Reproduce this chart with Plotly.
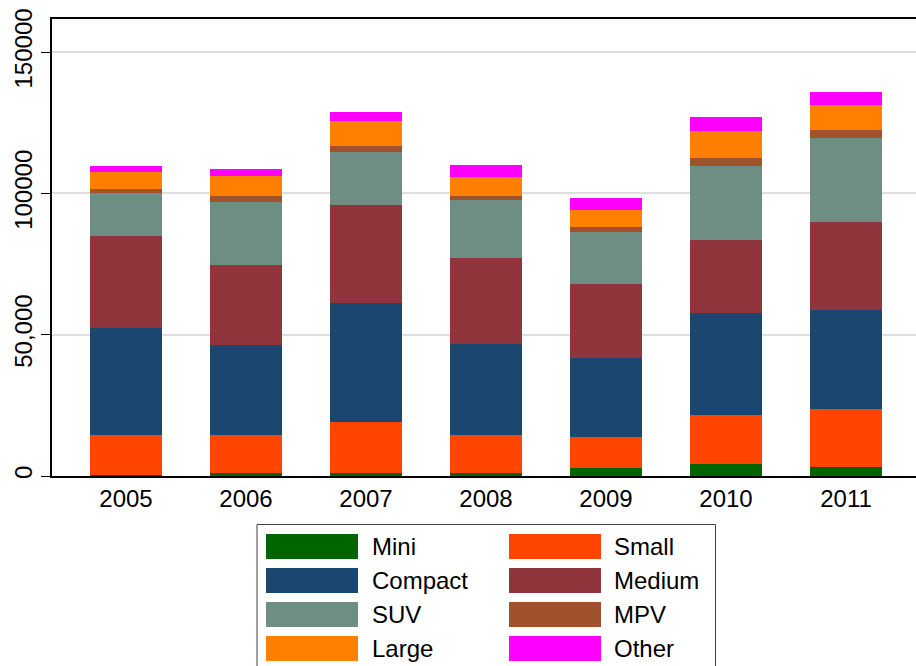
import plotly.graph_objects as go

years = [2005, 2006, 2007, 2008, 2009, 2010, 2011]
mini = [400, 1000, 1050, 1100, 2800, 4200, 3200]
small = [14100, 13400, 18000, 13300, 11050, 17400, 20450]
compact = [37900, 32100, 42000, 32200, 27900, 36000, 34950]
medium = [32400, 28200, 34950, 30700, 26100, 25800, 31400]
suv = [15500, 22250, 18700, 20350, 18600, 26350, 29650]
mpv = [1100, 2150, 2100, 1500, 1500, 2850, 2850]
large = [6100, 7000, 8800, 6700, 6250, 9600, 8800]
other = [2100, 2600, 3200, 4200, 4250, 4950, 4700]

series_names = ["Mini", "Small", "Compact", "Medium", "SUV", "MPV", "Large", "Other"]
series_values = [mini, small, compact, medium, suv, mpv, large, other]
colors = ["#006400", "#ff4500", "#1a476f", "#90353b", "#6e8e84", "#a0522d", "#ff8000", "#ff00ff"]

y_tickvals = [0, 50000, 100000, 150000]
y_ticktext = ["0", "50,000", "100000", "150000"]

W, H = 916, 666
L, R, T, B = 52, 0, 19, 190
pw, ph = W - L - R, H - T - B

fig = go.Figure()
for name, vals, col in zip(series_names, series_values, colors):
    fig.add_trace(go.Bar(x=years, y=vals, name=name, marker=dict(color=col, line=dict(width=0)),
                         width=0.6, showlegend=False, hoverinfo="skip"))

FONT = "Liberation Sans, Arial, Helvetica, sans-serif"

def px2paper(x, y):
    return (x - L) / pw, (H - B - y) / ph

shapes = []
annotations = []
# legend box
x0, y0 = px2paper(257, 524.5)
x1, y1 = px2paper(715.5, 680)
shapes.append(dict(type="rect", xref="paper", yref="paper", x0=x0, x1=x1, y0=y1, y1=y0,
                   line=dict(color="#404040", width=1), fillcolor="white", layer="above"))
col_sw = [266, 509]
col_tx = [370, 612]
row_c = [546.5, 580.5, 614.5, 648.5]
for i, (name, col) in enumerate(zip(series_names, colors)):
    r, c = divmod(i, 2)
    sx0, sy0 = px2paper(col_sw[c], row_c[r] - 12.5)
    sx1, sy1 = px2paper(col_sw[c] + 92, row_c[r] + 12.5)
    shapes.append(dict(type="rect", xref="paper", yref="paper", x0=sx0, x1=sx1, y0=sy1, y1=sy0,
                       line=dict(width=0), fillcolor=col, layer="above"))
    tx, ty = px2paper(col_tx[c], row_c[r])
    annotations.append(dict(xref="paper", yref="paper", x=tx, y=ty, text=name, showarrow=False,
                            xanchor="left", yanchor="middle", font=dict(size=24, color="black", family=FONT)))

fig.update_layout(
    width=W, height=H,
    margin=dict(l=L, r=R, t=T, b=B, pad=0, autoexpand=False),
    paper_bgcolor="white", plot_bgcolor="white",
    barmode="stack", bargap=0.4,
    font=dict(family=FONT, size=24, color="black"),
    shapes=shapes, annotations=annotations,
    xaxis=dict(range=[2005 - 74 / 120, 2005 - 74 / 120 + pw / 120], tickvals=years,
               ticktext=[str(y) for y in years], showgrid=False, zeroline=False,
               showline=True, linecolor="black", linewidth=1.5, mirror=True, automargin=False,
               ticks="", ticklabelstandoff=0, tickfont=dict(size=24)),
    yaxis=dict(range=[0, 161700], tickvals=y_tickvals, ticktext=y_ticktext, tickangle=-90,
               showgrid=True, gridcolor="#dedede", gridwidth=1.5, zeroline=False,
               showline=True, linecolor="black", linewidth=1.5, automargin=False,
               ticks="outside", ticklen=9, tickcolor="black", tickwidth=1.2,
               tickfont=dict(size=24)),
)
fig.write_html("out.html", config={"displayModeBar": False},
               post_script="document.body.style.margin='0';document.body.style.overflow='hidden';")
